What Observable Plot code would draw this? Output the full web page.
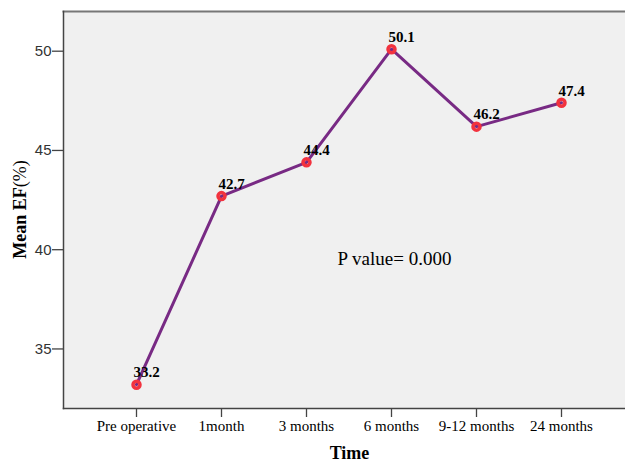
<!DOCTYPE html>
<html>
<head>
<meta charset="utf-8">
<script src="https://cdn.jsdelivr.net/npm/d3@7"></script>
<script src="https://cdn.jsdelivr.net/npm/@observablehq/plot@0.6"></script>
<style>
  body { margin: 0; background: #fff; }
  #chart svg { display: block; }
</style>
</head>
<body>
<div id="chart"></div>
<script>
const categories = ["Pre operative", "1month", "3 months", "6 months", "9-12 months", "24 months"];
const meanEF = [33.2, 42.7, 44.4, 50.1, 46.2, 47.4];
const valueLabels = ["33.2", "42.7", "44.4", "50.1", "46.2", "47.4"];
const yTicks = [35, 40, 45, 50];
const annotation = "P value= 0.000";

const data = categories.map((c, i) => ({ time: c, ef: meanEF[i], label: valueLabels[i] }));

const serif = "'Liberation Serif', 'Times New Roman', serif";
const sans = "'Liberation Sans', Arial, sans-serif";

const chart = Plot.plot({
  width: 625,
  height: 462,
  marginLeft: 63,
  marginRight: 0,
  marginTop: 11,
  marginBottom: 54,
  style: { background: "#fff", overflow: "visible" },
  x: { type: "point", domain: categories, range: [135, 562.3], padding: 0, label: null },
  y: { domain: [32, 52], label: null },
  marks: [
    Plot.frame({ fill: "#f0f0f0", stroke: null }),
    Plot.axisY({ ticks: yTicks, tickSize: 11, tickPadding: 1, stroke: "#444", strokeWidth: 1.3, fill: "#333", fontSize: 15, fontFamily: sans, label: null }),
    Plot.axisX({ tickSize: 9, tickPadding: 3, stroke: "#444", strokeWidth: 1.3, fill: "#000", fontSize: 15, fontFamily: serif, label: null }),
    Plot.frame({ anchor: "top", stroke: "#777", strokeWidth: 2 }),
    Plot.frame({ anchor: "left", stroke: "#444", strokeWidth: 1.5 }),
    Plot.frame({ anchor: "bottom", stroke: "#444", strokeWidth: 1.5 }),
    Plot.line(data, { x: "time", y: "ef", stroke: "#782a84", strokeWidth: 3 }),
    Plot.dot(data, { x: "time", y: "ef", r: 3.5, stroke: "#f2323e", strokeWidth: 3.5, fill: "none" }),
    Plot.text(data, { x: "time", y: "ef", text: "label", textAnchor: "start", dx: -3, dy: -12, fontSize: 15, fontWeight: "bold", fontFamily: serif, fill: "#000" }),
    Plot.text([annotation], { frameAnchor: "top-left", lineAnchor: "middle", dx: 337 - 63, dy: 258 - 11, text: d => d, textAnchor: "start", fontSize: 19, fontFamily: serif, fill: "#000" }),
    Plot.text(["Time"], { frameAnchor: "top-left", lineAnchor: "middle", dx: 349 - 63, dy: 453 - 11, text: d => d, textAnchor: "middle", fontSize: 18, fontWeight: "bold", fontFamily: serif, fill: "#000" }),
    Plot.text(["Mean EF(%)"], { frameAnchor: "top-left", lineAnchor: "middle", textAnchor: "middle", dx: 19.5 - 63, dy: 209 - 11, rotate: -90, text: d => d, fontSize: 18, fontWeight: "bold", fontFamily: serif, fill: "#000", className: "ylabel" })
  ]
});

// Render "(%)" in regular weight like the reference
d3.select(chart).selectAll(".ylabel text").each(function () {
  const t = d3.select(this);
  if (t.text() === "Mean EF(%)") {
    t.text(null);
    t.append("tspan").text("Mean EF");
    t.append("tspan").attr("font-weight", "normal").text("(%)");
  }
});

document.getElementById("chart").appendChild(chart);
</script>
</body>
</html>
